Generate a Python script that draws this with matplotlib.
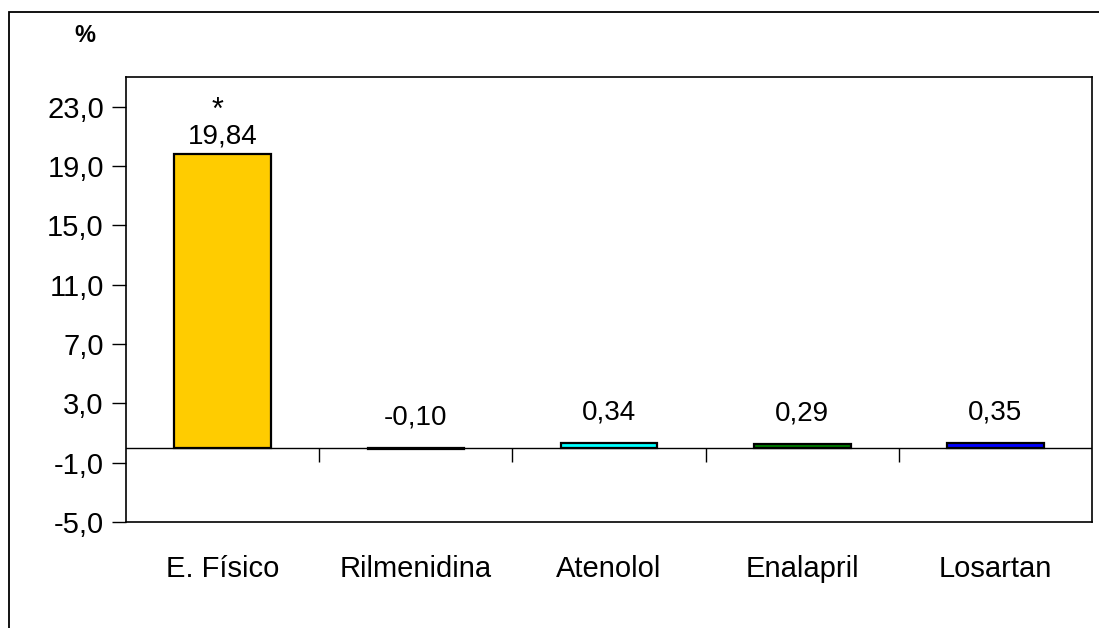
import matplotlib.pyplot as plt
from matplotlib.patches import Rectangle

plt.rcParams['font.family'] = ['Liberation Sans', 'DejaVu Sans']

CATEGORIES = ['E. Físico', 'Rilmenidina', 'Atenolol', 'Enalapril', 'Losartan']
VALUES = [19.84, -0.10, 0.34, 0.29, 0.35]
VALUE_LABELS = ['19,84', '-0,10', '0,34', '0,29', '0,35']
SIGNIFICANT = [True, False, False, False, False]
COLORS = ['#FFCC00', '#000000', '#00FFFF', '#008000', '#0000FF']
Y_TICKS = [-5, -1, 3, 7, 11, 15, 19, 23]
Y_LIM = (-5, 25)

fig = plt.figure(figsize=(10.99, 6.28), dpi=100)
ax = fig.add_axes([126 / 1099, 1 - 522 / 628, (1092 - 126) / 1099, (522 - 77) / 628])

x = list(range(len(CATEGORIES)))
ax.bar(x, VALUES, width=0.5, color=COLORS, edgecolor='black', linewidth=1.6, zorder=3)
ax.axhline(0, color='black', linewidth=1.0, zorder=2)

ax.set_xlim(-0.5, len(CATEGORIES) - 0.5)
ax.set_ylim(*Y_LIM)
ax.set_yticks(Y_TICKS)
ax.set_yticklabels(['{:.1f}'.format(t).replace('.', ',') for t in Y_TICKS])
ax.set_xticks(x)
ax.set_xticklabels(CATEGORIES)
ax.tick_params(axis='x', length=0, pad=24, labelsize=21)
ax.tick_params(axis='y', direction='out', length=10, width=1.0, pad=6, labelsize=21)
for s in ax.spines.values():
    s.set_linewidth(1.2)

# category separators hanging below the zero line
ax2 = ax.twiny()
ax2.set_xlim(ax.get_xlim())
for name in ['top', 'left', 'right', 'bottom']:
    ax2.spines[name].set_visible(False)
ax2.spines['bottom'].set_position(('data', 0))
ax2.xaxis.set_ticks_position('bottom')
ax2.set_xticks([i + 0.5 for i in x[:-1]])
ax2.tick_params(axis='x', direction='out', length=10, width=1.0, labelbottom=False, labeltop=False)

for xi, v, lab, sig in zip(x, VALUES, VALUE_LABELS, SIGNIFICANT):
    top = max(v, 0)
    off = 4 if v > 2 else 17
    ax.annotate(lab, (xi, top), xytext=(0, off), textcoords='offset pixels',
                ha='center', va='bottom', fontsize=20)
    if sig:
        ax.annotate('*', (xi, top), xytext=(-5, off + 24), textcoords='offset pixels',
                    ha='center', va='bottom', fontsize=22)

fig.text(85 / 1099, 1 - 36 / 628, '%', fontsize=17, fontweight='bold', ha='center', va='center')

# outer chart frame
fig.patches.append(Rectangle((8.5 / 1099, -0.1), 1.2, 1.1 - 12.5 / 628, transform=fig.transFigure,
                             fill=False, edgecolor='black', linewidth=1.3, clip_on=False))

fig.savefig('out.png', dpi=100)
